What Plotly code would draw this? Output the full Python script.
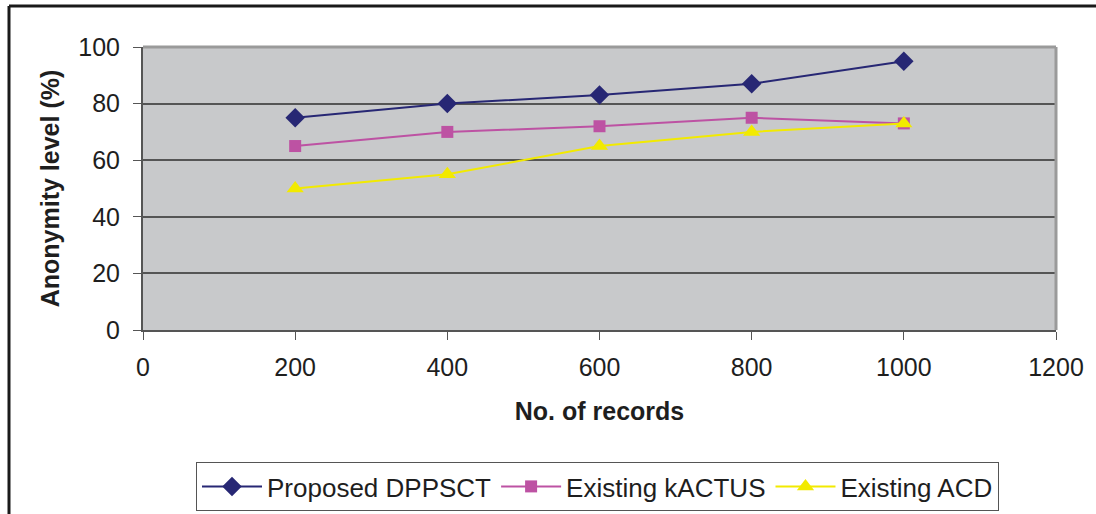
import plotly.graph_objects as go

records = [200, 400, 600, 800, 1000]
proposed_dppsct = [75, 80, 83, 87, 95]
existing_kactus = [65, 70, 72, 75, 73]
existing_acd = [50, 55, 65, 70, 73]

x_ticks = [0, 200, 400, 600, 800, 1000, 1200]
y_ticks = [0, 20, 40, 60, 80, 100]

FONT = "Liberation Sans, Arial, sans-serif"

fig = go.Figure()
fig.add_trace(go.Scatter(x=records, y=proposed_dppsct, name="Proposed DPPSCT",
                         mode="lines+markers",
                         line=dict(color="#272774", width=2),
                         marker=dict(symbol="diamond", size=15, color="#272774")))
fig.add_trace(go.Scatter(x=records, y=existing_kactus, name="Existing kACTUS",
                         mode="lines+markers",
                         line=dict(color="#bd52a3", width=2),
                         marker=dict(symbol="square", size=12, color="#bd52a3")))
fig.add_trace(go.Scatter(x=records, y=existing_acd, name="Existing ACD",
                         mode="lines+markers",
                         line=dict(color="#f2ea00", width=2),
                         marker=dict(symbol="triangle-up", size=15, color="#f2ea00")))

W, H = 1096, 514
L, R, T, B = 143, 40, 47, 184
pw, ph = W - L - R, H - T - B

def px_x(x):
    return (x - L) / pw

def px_y(y):
    return (H - B - y) / ph

fig.update_layout(
    width=W, height=H,
    margin=dict(l=L, r=R, t=T, b=B, autoexpand=False),
    paper_bgcolor="white",
    plot_bgcolor="#c8c9cb",
    font=dict(family=FONT, size=25, color="#1e1e1e"),
    showlegend=True,
    legend=dict(orientation="h", x=px_x(196), y=px_y(462), xanchor="left", yanchor="top",
                bordercolor="#555555", borderwidth=1, bgcolor="white",
                font=dict(family=FONT, size=26, color="#1e1e1e"),
                itemwidth=60, tracegroupgap=0),
    xaxis=dict(range=[0, 1200], tickvals=x_ticks, ticks="outside", ticklen=8,
               tickcolor="#555555", showgrid=False, zeroline=False,
               showline=True, linecolor="#555555", linewidth=2,
               ticklabelstandoff=6,
               tickfont=dict(size=25, color="#1e1e1e"),
               title=dict(text="<b>No. of records</b>", font=dict(size=25, color="#1e1e1e"), standoff=22),
               automargin=False),
    yaxis=dict(range=[0, 100], tickvals=y_ticks, ticks="outside", ticklen=8,
               tickcolor="#555555", showgrid=True, gridcolor="#555555", gridwidth=1.5,
               zeroline=False, showline=True, linecolor="#555555", linewidth=2,
               ticklabelstandoff=8,
               tickfont=dict(size=25, color="#1e1e1e"),
               title=dict(text="<b>Anonymity level (%)</b>", font=dict(size=25, color="#1e1e1e"), standoff=12),
               automargin=False),
    shapes=[
        dict(type="line", xref="paper", yref="paper", x0=0, x1=1, y0=1, y1=1,
             line=dict(color="#9a9a9a", width=3), layer="above"),
        dict(type="line", xref="paper", yref="paper", x0=1, x1=1, y0=0, y1=1,
             line=dict(color="#9a9a9a", width=3), layer="above"),
        dict(type="line", xref="paper", yref="paper", x0=px_x(9), x1=px_x(1100),
             y0=px_y(6), y1=px_y(6), line=dict(color="#1a1a1a", width=3)),
        dict(type="line", xref="paper", yref="paper", x0=px_x(9), x1=px_x(9),
             y0=px_y(6), y1=px_y(520), line=dict(color="#1a1a1a", width=3)),
    ],
)

fig.write_html("out.html", config={"displayModeBar": False},
               post_script="document.body.style.margin='0';document.body.style.overflow='hidden';")
